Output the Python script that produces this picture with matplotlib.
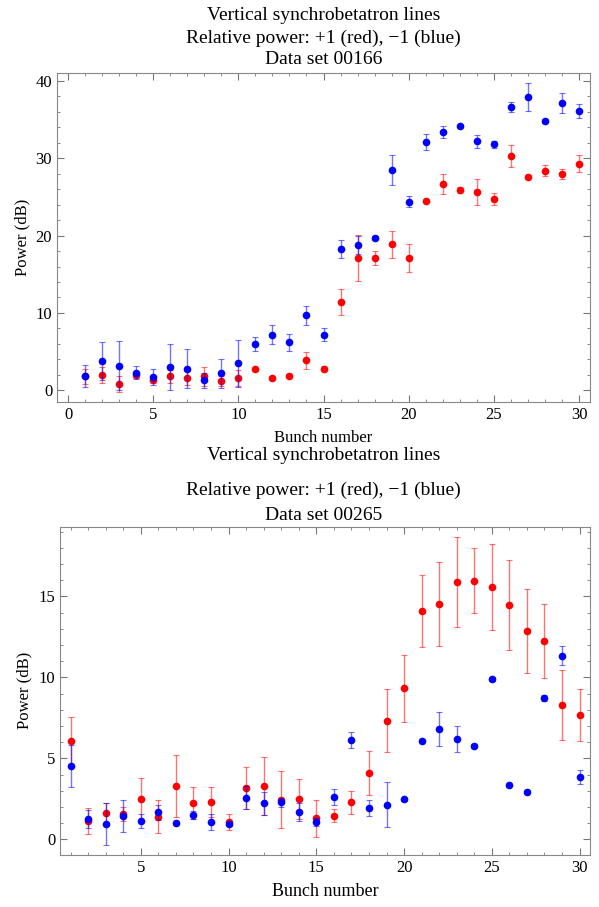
import matplotlib.pyplot as plt
from matplotlib.ticker import MultipleLocator

plt.rcParams['font.family'] = ['Liberation Serif', 'DejaVu Serif']

bunch = list(range(1, 31))

# data set 00166
red_166 = [1.8, 2.0, 0.8, 2.0, 1.4, 1.8, 1.6, 1.8, 1.2, 1.6,
           2.7, 1.6, 1.9, 3.9, 2.8, 11.4, 17.1, 17.1, 18.9, 17.1,
           24.5, 26.7, 25.9, 25.6, 24.7, 30.3, 27.6, 28.4, 28.0, 29.3]
red_166_err = [1.0, 1.0, 1.0, 0.4, 0.5, 0.8, 0.9, 1.2, 0.6, 1.0,
               0.2, 0.2, 0.2, 1.1, 0.3, 1.7, 3.0, 0.9, 1.75, 1.75,
               0.2, 1.3, 0.4, 1.7, 0.8, 1.4, 0.2, 0.75, 0.65, 1.05]
blue_166 = [1.9, 3.8, 3.2, 2.3, 1.7, 3.0, 2.8, 1.3, 2.2, 3.5,
            6.0, 7.2, 6.2, 9.7, 7.2, 18.3, 18.8, 19.7, 28.5, 24.4,
            32.1, 33.4, 34.1, 32.2, 31.8, 36.6, 37.9, 34.8, 37.1, 36.1]
blue_166_err = [1.4, 2.5, 3.2, 0.8, 1.0, 3.0, 2.5, 1.0, 1.9, 3.0,
                0.85, 1.2, 1.1, 1.25, 0.8, 1.15, 1.2, 0.3, 1.95, 0.7,
                1.05, 0.8, 0.2, 0.85, 0.45, 0.65, 1.8, 0.2, 1.3, 0.85]

# data set 00265
red_265 = [6.07, 1.13, 1.6, 1.56, 2.51, 1.4, 3.29, 2.24, 2.28, 1.09,
           3.19, 3.31, 2.45, 2.49, 1.3, 1.46, 2.28, 4.09, 7.33, 9.32,
           14.09, 14.53, 15.86, 15.97, 15.58, 14.47, 12.84, 12.24, 8.29, 7.67]
red_265_err = [1.5, 0.83, 0.65, 0.45, 1.3, 1.0, 1.9, 1.0, 0.93, 0.5,
               1.3, 1.8, 1.75, 1.25, 1.15, 0.4, 0.7, 1.37, 1.96, 2.06,
               2.22, 2.62, 2.78, 2.0, 2.65, 2.78, 2.6, 2.3, 2.16, 1.6]
blue_265 = [4.55, 1.23, 0.95, 1.44, 1.13, 1.67, 1.0, 1.48, 1.05, 0.93,
            2.57, 2.22, 2.28, 1.71, 1.09, 2.59, 6.13, 1.91, 2.14, 2.47,
            6.09, 6.81, 6.19, 5.76, 9.9, 3.37, 2.94, 8.72, 11.34, 3.85]
blue_265_err = [1.3, 0.55, 1.3, 1.0, 0.45, 0.45, 0.1, 0.25, 0.5, 0.1,
                0.72, 0.72, 0.3, 0.55, 0.25, 0.5, 0.48, 0.5, 1.39, 0.1,
                0.1, 1.03, 0.78, 0.1, 0.1, 0.1, 0.1, 0.2, 0.6, 0.45]


def panel(ax, red, red_err, blue, blue_err):
    for y, e, c in [(red, red_err, '#ff0000'), (blue, blue_err, '#0000ff')]:
        ax.errorbar(bunch, y, yerr=e, fmt='none', ecolor=c, alpha=0.55,
                    elinewidth=1.0, capsize=2, capthick=0.8)
        ax.plot(bunch, y, 'o', color=c, markersize=5.5, markeredgewidth=0)
    for s in ax.spines.values():
        s.set_color('#888888')
    ax.tick_params(which='both', direction='in', top=True, right=True,
                   color='#777777', labelsize=12)
    ax.tick_params(which='major', length=5)
    ax.tick_params(which='minor', length=2.5)
    ax.xaxis.set_minor_locator(MultipleLocator(1))
    ax.set_ylabel('Power (dB)', fontsize=12)


fig = plt.figure(figsize=(5.99, 9.07), dpi=100)

ax1 = fig.add_axes([0.0952, 0.5568, 0.8898, 0.3627])
panel(ax1, red_166, red_166_err, blue_166, blue_166_err)
ax1.set_xlim(-0.65, 30.65)
ax1.set_ylim(-1.5, 41.0)
ax1.xaxis.set_major_locator(MultipleLocator(5))
ax1.yaxis.set_major_locator(MultipleLocator(10))
ax1.yaxis.set_minor_locator(MultipleLocator(2))
ax1.set_xlabel('Bunch number', fontsize=12, labelpad=5)
fig.text(0.54, 0.983, 'Vertical synchrobetatron lines', ha='center', va='center', fontsize=14)
fig.text(0.54, 0.958, 'Relative power: +1 (red), \u22121 (blue)', ha='center', va='center', fontsize=14)
fig.text(0.54, 0.934, 'Data set 00166', ha='center', va='center', fontsize=14)

ax2 = fig.add_axes([0.1002, 0.0573, 0.885, 0.362])
panel(ax2, red_265, red_265_err, blue_265, blue_265_err)
ax2.set_xlim(0.4, 30.6)
ax2.set_ylim(-0.97, 19.3)
ax2.xaxis.set_major_locator(MultipleLocator(5))
ax2.yaxis.set_major_locator(MultipleLocator(5))
ax2.yaxis.set_minor_locator(MultipleLocator(1))
ax2.set_xticks([5, 10, 15, 20, 25, 30])
ax2.set_xlabel('Bunch number', fontsize=13, labelpad=5)
fig.text(0.54, 0.498, 'Vertical synchrobetatron lines', ha='center', va='center', fontsize=14)
fig.text(0.54, 0.459, 'Relative power: +1 (red), \u22121 (blue)', ha='center', va='center', fontsize=14)
fig.text(0.54, 0.432, 'Data set 00265', ha='center', va='center', fontsize=14)

fig.savefig('out.png', dpi=100)
